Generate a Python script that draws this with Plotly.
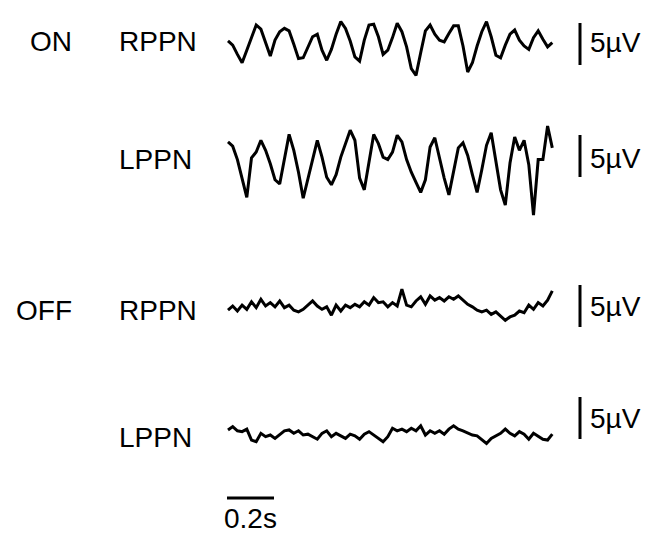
import plotly.graph_objects as go

# ---- data (µV deflections, sampled every 0.02 s) ----
SAMPLE_INTERVAL_S = 0.02

on_rppn = [0.6, 0.1, -1.0, -2.0, -0.5, 1.1, 2.5, 2.0, 0.5, -1.2,
           0.7, 1.7, 2.1, 1.8, 0.2, -1.5, -1.4, -0.1, 1.1, 1.4,
           -0.5, -1.7, -0.4, 1.4, 2.9, 2.1, 0.6, -1.3, -1.8, 0.7,
           2.5, 2.6, 1.1, -1.0, -0.5, 1.0, 2.7, 1.7, -0.1, -2.7,
           -3.5, -0.8, 1.8, 2.5, 1.4, 0.7, 0.5, 1.5, 2.4, 2.4,
           0.0, -3.1, -2.0, 0.0, 1.7, 2.9, 1.1, -1.1, -1.4, 0.1,
           1.4, 1.9, 0.7, 0.0, -0.4, 1.0, 1.8, 0.8, -0.1, 0.4]

on_lppn = [3.1, 2.6, 1.0, -1.1, -3.5, 1.2, 1.9, 3.3, 2.1, 0.5,
           -1.4, -1.9, 1.0, 4.0, 2.1, -0.5, -3.6, -1.4, 1.0, 3.3,
           1.3, -1.1, -2.0, -0.8, 1.3, 3.0, 4.5, 3.3, -1.2, -2.6,
           0.6, 4.0, 2.9, 1.3, 1.0, 1.9, 3.9, 3.1, 1.0, -0.5,
           -1.7, -2.9, -1.4, 2.5, 3.6, 1.2, -1.2, -3.2, -0.5, 2.4,
           3.0, 1.5, -0.8, -2.9, -0.2, 2.7, 4.2, 1.0, -2.6, -4.4,
           0.6, 3.7, 2.1, 3.3, 0.4, -5.6, 1.0, 1.0, 5.0, 2.4]

off_rppn = [-0.5, 0.0, -0.6, 0.1, -0.4, 0.5, -0.2, 0.8, 0.0, 0.4,
            -0.1, 0.6, -0.2, 0.1, -0.5, -0.7, -0.4, 0.1, 0.6, 0.0,
            -0.4, -0.1, -1.1, 0.1, -0.6, 0.1, -0.2, 0.2, -0.1, 0.5,
            0.1, 1.0, 0.4, 0.5, -0.1, 0.4, 0.0, 2.0, 0.1, -0.1,
            0.6, 1.1, 0.2, 1.2, 0.7, 1.0, 0.6, 1.1, 0.8, 1.2,
            0.7, 0.2, -0.1, -0.5, -0.7, -0.5, -1.0, -0.7, -1.2, -1.7,
            -1.3, -1.1, -0.6, -0.8, 0.1, -0.4, 0.4, 0.0, 0.7, 1.8]

off_lppn = [0.6, 1.0, 0.5, 0.4, 0.7, -0.6, -0.8, 0.2, -0.2, 0.0,
            -0.4, 0.1, 0.5, 0.6, 0.2, 0.5, 0.0, 0.1, -0.2, -0.5,
            0.2, 0.5, -0.2, 0.2, -0.1, -0.4, 0.1, -0.1, -0.5, 0.1,
            0.4, 0.0, -0.4, -0.8, -0.2, 0.8, 0.5, 0.7, 0.4, 0.8,
            0.5, 1.1, 0.0, 0.5, 0.2, 0.5, 0.1, 0.7, 1.1, 0.7,
            0.5, 0.2, 0.0, -0.1, -0.6, -1.0, -0.4, -0.1, 0.2, 0.7,
            0.2, -0.1, 0.4, 0.1, -0.5, 0.2, -0.2, -0.5, -0.6, 0.1]

condition_labels = ["ON", "OFF"]
channel_labels = ["RPPN", "LPPN", "RPPN", "LPPN"]
amp_scale_label = "5µV"
time_scale_label = "0.2s"
AMP_SCALE_UV = 5
TIME_SCALE_S = 0.2

# ---- layout constants ----
W, H = 651, 545
PX_PER_UV = 8.4
PX_PER_S = 235.0
X0_PX = 228          # pixel where the traces start
FONT = dict(family="Arial, Liberation Sans, Helvetica, sans-serif", size=28, color="black")


def tx(px):
    return (px - X0_PX) / PX_PER_S


def ty(px):
    return -px / PX_PER_UV


traces = [on_rppn, on_lppn, off_rppn, off_lppn]
centers_px = [46, 168, 306, 435]       # vertical baseline of each trace
label_px = [41, 159, 310, 437]         # channel label centres
bar_top_px = [23, 135, 285, 397]       # top of each 5 µV bar
unit_label_px = [42, 158, 306, 418]

fig = go.Figure()
for vals, c in zip(traces, centers_px):
    t = [i * SAMPLE_INTERVAL_S for i in range(len(vals))]
    y = [ty(c) + v for v in vals]
    fig.add_trace(go.Scatter(x=t, y=y, mode="lines",
                             line=dict(color="black", width=3),
                             hoverinfo="skip", showlegend=False))

ann = []
# condition labels
for lab, ypx in zip(condition_labels, [label_px[0], label_px[2]]):
    ann.append(dict(x=tx(74), y=ty(ypx), text=lab, xanchor="right", yanchor="middle",
                    showarrow=False, font=FONT))
# channel labels
for lab, ypx in zip(channel_labels, label_px):
    ann.append(dict(x=tx(117), y=ty(ypx), text=lab, xanchor="left", yanchor="middle",
                    showarrow=False, font=FONT))

shapes = []
bar_x = tx(580)
for top, uy in zip(bar_top_px, unit_label_px):
    shapes.append(dict(type="line", xref="x", yref="y", x0=bar_x, x1=bar_x,
                       y0=ty(top), y1=ty(top) - AMP_SCALE_UV,
                       line=dict(color="black", width=3)))
    ann.append(dict(x=tx(588), y=ty(uy), text=amp_scale_label, xanchor="left",
                    yanchor="middle", showarrow=False, font=FONT))

# time scale bar
shapes.append(dict(type="line", xref="x", yref="y", x0=tx(227), x1=tx(227) + TIME_SCALE_S,
                   y0=ty(498), y1=ty(498), line=dict(color="black", width=3)))
ann.append(dict(x=tx(227) + TIME_SCALE_S / 2, y=ty(518), text=time_scale_label,
                xanchor="center", yanchor="middle", showarrow=False, font=FONT))

fig.update_layout(
    width=W, height=H,
    margin=dict(l=0, r=0, t=0, b=0),
    paper_bgcolor="white", plot_bgcolor="white",
    xaxis=dict(range=[tx(0), tx(W)], visible=False, fixedrange=True),
    yaxis=dict(range=[ty(H), ty(0)], visible=False, fixedrange=True),
    annotations=ann, shapes=shapes,
)

fig.write_html("out.html")
